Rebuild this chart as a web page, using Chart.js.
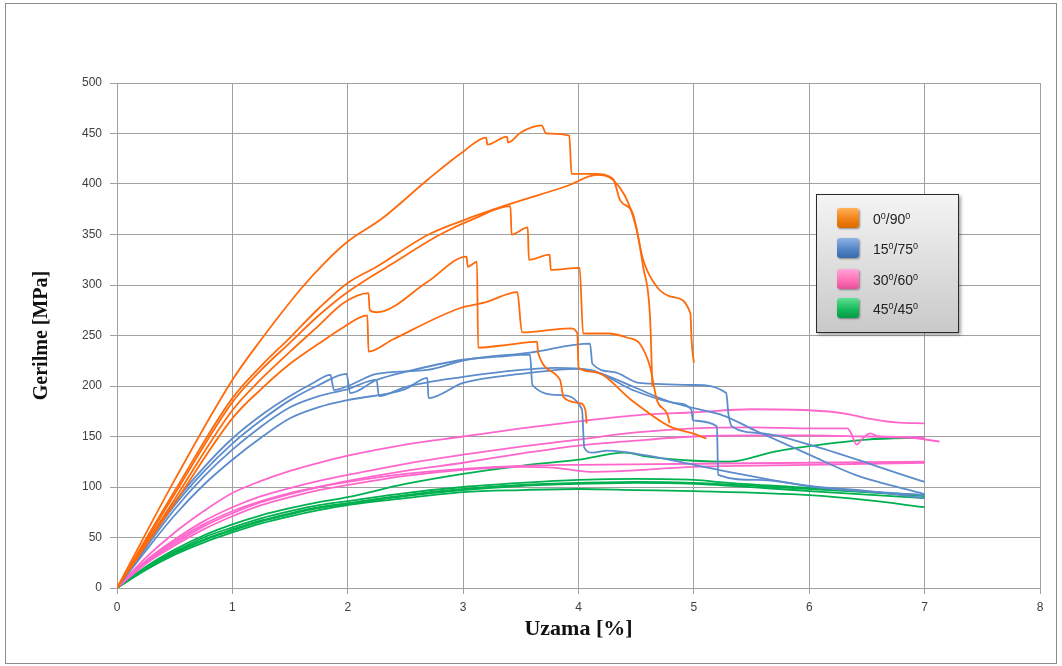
<!DOCTYPE html>
<html>
<head>
<meta charset="utf-8">
<script src="https://cdn.jsdelivr.net/npm/chart.js@4.4.0/dist/chart.umd.min.js"></script>
<style>
    body { margin: 0; background: #fff; }
    #wrap { position: relative; width: 1062px; height: 666px; }
    #frame { position: absolute; left: 5px; top: 3px; width: 1050px; height: 659px; border: 1px solid #8c8c8c; pointer-events: none; }
    #legend {
        position: absolute; left: 816px; top: 194px; width: 141px; height: 137px;
        border: 1.5px solid #2b2b2b;
        background: linear-gradient(#f4f4f4, #c9c9c9);
        box-shadow: 2px 2px 3px rgba(0, 0, 0, .35);
        font-family: 'Liberation Sans', Arial, sans-serif; font-size: 14px; color: #222;
    }
    .sw { position: absolute; left: 20px; width: 22px; height: 20px; border-radius: 3px; box-shadow: 1px 1px 2px rgba(0,0,0,.4); }
    .lbl { position: absolute; left: 56px; height: 20px; line-height: 20px; white-space: nowrap; }
    .lbl sup { font-size: 9px; vertical-align: 5px; line-height: 0; }
</style>
</head>
<body>
<div id="wrap">
    <canvas id="lineChart" width="1062" height="666"></canvas>
    <div id="frame"></div>
    <div id="legend"></div>
</div>
<script>
// strain [%], stress [MPa]
const xTicks = [0, 1, 2, 3, 4, 5, 6, 7, 8];
const yTicks = [0, 50, 100, 150, 200, 250, 300, 350, 400, 450, 500];

const orangeA = [[0,0],[0.5,107],[1,206],[1.25,246],[1.6,297],[1.8,322],[2,343],[2.3,366],[2.7,405],[3,432],[3.2,446],[3.21,439],[3.38,447],[3.39,441],[3.5,451],[3.68,458],[3.72,450],[3.92,448],[3.94,410],[4.15,410],[4.3,405],[4.36,384],[4.47,371],[4.56,325],[4.68,298],[4.82,288],[4.97,272],[4.98,245],[5.0,223]];
const orangeB = [[0,0],[0.5,96],[1,188],[1.25,220],[1.5,248],[1.75,277],[2,302],[2.25,318],[2.7,350],[3,364],[3.4,380],[3.9,398],[4.16,409],[4.3,404],[4.5,357],[4.56,318],[4.62,268],[4.64,200]];
const orangeC = [[0,0],[0.5,93],[1,184],[1.25,216],[1.5,243],[1.75,270],[2,293],[2.4,322],[2.8,350],[3.1,366],[3.41,378],[3.42,350],[3.56,357],[3.57,325],[3.75,330],[3.76,315],[4.01,317],[4.04,252],[4.25,252],[4.42,248],[4.53,242],[4.62,219],[4.68,186],[4.77,172],[4.79,163]];
const orangeD = [[0,0],[0.5,88],[1,176],[1.25,207],[1.5,234],[1.75,260],[1.96,282],[2.18,292],[2.19,275],[2.25,273],[2.69,303],[3.03,328],[3.04,318],[3.12,323],[3.13,238],[3.4,241],[3.64,244],[3.65,233],[3.84,206],[3.87,189],[4.01,183],[4.06,176],[4.07,163]];
const orangeE = [[0,0],[0.5,84],[1,168],[1.25,197],[1.5,222],[1.75,242],[1.96,258],[2.17,270],[2.18,234],[2.39,246],[2.97,277],[3.2,283],[3.47,293],[3.51,253],[3.93,257],[3.99,252],[4.0,218],[4.13,214],[4.47,185],[4.79,160],[4.99,153],[5.11,148]];

const blue1 = [[0,0],[0.25,44],[0.5,85],[0.75,119],[1,148],[1.25,171],[1.5,190],[1.7,203],[1.85,211],[1.88,196],[2.0,200],[2.25,212],[2.69,216],[3.03,226],[3.58,233],[4.1,242],[4.12,222],[4.3,214],[4.53,203],[5.0,201],[5.28,193],[5.3,172],[5.33,160],[5.6,153],[6.0,142],[6.55,122],[6.81,112],[7,105]];
const blue2 = [[0,0],[0.25,42],[0.5,82],[0.75,115],[1,143],[1.25,166],[1.5,186],[1.75,201],[1.99,212],[2.02,193],[2.25,206],[2.5,214],[3,226],[3.3,229],[3.58,231],[3.6,201],[3.84,191],[4.03,177],[4.05,139],[4.12,134],[4.25,136],[4.6,131],[5.0,122],[5.3,115],[6.0,101],[6.5,96],[7,89]];
const blue3 = [[0,0],[0.25,40],[0.5,78],[0.75,110],[1,137],[1.25,160],[1.5,179],[1.75,190],[2,197],[2.25,206],[2.27,190],[2.5,199],[3,209],[3.5,216],[3.8,218],[4.1,216],[4.47,196],[4.85,183],[4.98,176],[4.99,166],[5.2,160],[5.21,112],[5.55,107],[6.12,99],[7,92]];
const blue4 = [[0,0],[0.25,37],[0.5,72],[0.75,102],[1,127],[1.25,149],[1.5,168],[1.75,179],[2,186],[2.5,197],[2.69,208],[2.7,188],[3,203],[3.5,212],[4,217],[4.2,212],[4.5,198],[4.75,186],[5.0,178],[5.25,171],[5.55,155],[6.0,132],[6.4,112],[7,93]];

const pink1 = [[0,0],[0.25,30],[0.5,55],[0.75,76],[1,94],[1.25,106],[1.5,116],[1.75,124],[2,131],[2.5,142],[3,150],[3.5,158],[4,165],[4.5,171],[5,174],[5.5,177],[6,176],[6.3,173],[6.5,168],[6.75,164],[7,163]];
const pink2 = [[0,0],[0.25,27],[0.5,48],[0.75,66],[1,80],[1.25,91],[1.5,99],[1.75,106],[2,112],[2.5,123],[3,132],[3.5,140],[4,147],[4.5,154],[5,158],[5.5,159],[6,158],[6.33,158],[6.36,154],[6.41,142],[6.47,149],[6.53,153],[6.6,150],[6.85,149],[7.13,145]];
const pink3 = [[0,0],[0.25,26],[0.5,46],[0.75,63],[1,76],[1.25,86],[1.5,94],[1.75,100],[2,106],[2.5,116],[3,124],[3.5,133],[4,141],[4.5,146],[5,150],[5.5,151],[6,151],[6.5,150],[7,149]];
const pink4 = [[0,0],[0.25,24],[0.5,42],[0.75,58],[1,71],[1.25,82],[1.5,90],[1.75,97],[2,102],[2.5,111],[3,117],[3.5,120],[3.8,119],[4.1,115],[4.4,116],[5,120],[6,122],[7,124]];
const pink5 = [[0,0],[0.25,25],[0.5,44],[0.75,61],[1,74],[1.25,85],[1.5,93],[1.75,100],[2,105],[2.5,113],[3,118],[3.5,121],[4,122],[5,123],[6,124],[7,125]];

const green1 = [[0,0],[0.25,21],[0.5,38],[0.75,52],[1,63],[1.25,72],[1.5,79],[1.75,85],[2,90],[2.5,103],[3,113],[3.5,121],[4,127],[4.4,134],[4.6,130],[5,126],[5.3,125],[5.7,135],[6.1,142],[6.5,147],[7,149]];
const green2 = [[0,0],[0.25,20],[0.5,36],[0.75,50],[1,60],[1.25,69],[1.5,76],[1.75,82],[2,86],[2.5,94],[3,100],[3.5,104],[4,107],[4.5,108],[5,107],[5.3,104],[6,99],[6.5,95],[7,91]];
const green3 = [[0,0],[0.25,19],[0.5,35],[0.75,48],[1,58],[1.25,67],[1.5,74],[1.75,80],[2,84],[2.5,92],[3,98],[3.5,102],[4,104],[4.5,105],[5,104],[6,98],[7,92]];
const green4 = [[0,0],[0.25,18],[0.5,33],[0.75,45],[1,55],[1.25,64],[1.5,71],[1.75,77],[2,82],[2.5,89],[3,95],[3.5,97],[4,98],[4.5,97],[5,96],[6,92],[6.5,87],[7,80]];
const green5 = [[0,0],[0.25,18],[0.5,34],[0.75,47],[1,57],[1.25,66],[1.5,73],[1.75,79],[2,83],[2.5,91],[3,97],[3.5,101],[4,103],[4.5,104],[5,103],[6,96],[7,89]];

const groups = [
    {label: '0<sup>0</sup>/90<sup>0</sup>', color: 'rgb(255, 106, 10)', swatch: 'linear-gradient(#ffb25a, #f07d10 60%, #d96a00)', curves: [orangeA, orangeB, orangeC, orangeD, orangeE]},
    {label: '15<sup>0</sup>/75<sup>0</sup>', color: 'rgb(92, 140, 204)', swatch: 'linear-gradient(#8fb4e6, #4f81c4 60%, #3b6aa8)', curves: [blue1, blue2, blue3, blue4]},
    {label: '30<sup>0</sup>/60<sup>0</sup>', color: 'rgb(255, 102, 204)', swatch: 'linear-gradient(#ffa6d6, #ff6cb6 60%, #e4509a)', curves: [pink1, pink2, pink3, pink4, pink5]},
    {label: '45<sup>0</sup>/45<sup>0</sup>', color: 'rgb(0, 176, 80)', swatch: 'linear-gradient(#5fe08f, #12b85a 60%, #069945)', curves: [green1, green2, green3, green4, green5]}
];

document.addEventListener('DOMContentLoaded', function () {
    let datasets = [];
    groups.forEach(function (g) {
        g.curves.forEach(function (c) {
            datasets.push({
                data: c.map(p => ({x: p[0], y: p[1]})),
                borderColor: g.color,
                borderWidth: 1.8,
                showLine: true,
                pointRadius: 0,
                cubicInterpolationMode: 'monotone',
                fill: false
            });
        });
    });

    // legend box inside the plot, as in the original
    let legend = document.getElementById('legend');
    let swTops = [13, 43, 74, 103];
    groups.forEach(function (g, i) {
        legend.innerHTML += '<div class="sw" style="top:' + swTops[i] + 'px;background:' + g.swatch + '"></div>' +
            '<div class="lbl" style="top:' + (swTops[i] + 1) + 'px">' + g.label + '</div>';
    });

    let ctx = document.getElementById('lineChart').getContext('2d');
    let gridColor = '#a0a0a0';
    new Chart(ctx, {
        type: 'scatter',
        data: {datasets: datasets},
        options: {
            responsive: false,
            animation: false,
            layout: {padding: {left: 0, top: 83, right: 22, bottom: 0}},
            plugins: {legend: {display: false}, tooltip: {enabled: false}},
            scales: {
                x: {
                    type: 'linear', min: xTicks[0], max: xTicks[xTicks.length - 1],
                    afterBuildTicks: s => { s.ticks = xTicks.map(v => ({value: v})); },
                    afterFit: s => { s.height = 78; },
                    grid: {color: gridColor, tickLength: 6, lineWidth: 1},
                    border: {color: gridColor},
                    ticks: {color: '#404040', padding: 6, font: {family: 'Liberation Sans', size: 12}},
                    title: {display: true, text: 'Uzama [%]', color: '#111', padding: {bottom: 23},
                        font: {family: 'Liberation Serif', size: 22, weight: 'bold'}}
                },
                y: {
                    type: 'linear', min: yTicks[0], max: yTicks[yTicks.length - 1],
                    afterBuildTicks: s => { s.ticks = yTicks.map(v => ({value: v})); },
                    afterFit: s => { s.width = 117; },
                    grid: {color: gridColor, tickLength: 7, lineWidth: 1},
                    border: {color: gridColor},
                    ticks: {color: '#404040', padding: 8, font: {family: 'Liberation Sans', size: 12}},
                    title: {display: true, text: 'Gerilme [MPa]', color: '#111', padding: {top: 30},
                        font: {family: 'Liberation Serif', size: 20, weight: 'bold'}}
                }
            }
        }
    });
});
</script>
</body>
</html>
